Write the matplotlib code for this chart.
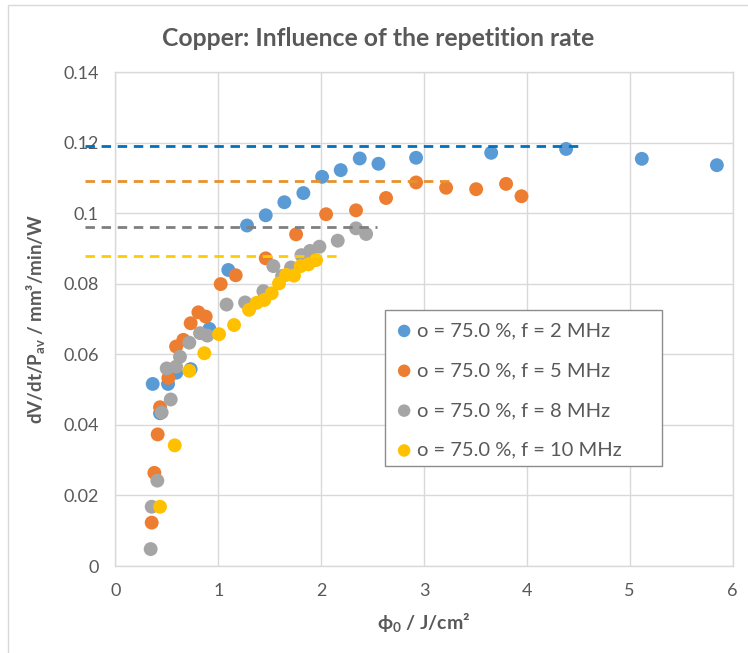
import matplotlib
matplotlib.use("Agg")
import matplotlib.pyplot as plt
from matplotlib.patches import Rectangle

plt.rcParams['font.family'] = ['Lato', 'DejaVu Sans']
plt.rcParams['mathtext.default'] = 'regular'

title = "Copper: Influence of the repetition rate"
x_ticks = [0, 1, 2, 3, 4, 5, 6]
y_ticks = [0, 0.02, 0.04, 0.06, 0.08, 0.10, 0.12, 0.14]
y_tick_labels = ["0", "0.02", "0.04", "0.06", "0.08", "0.1", "0.12", "0.14"]

labels = ["o = 75.0 %, f = 2 MHz", "o = 75.0 %, f = 5 MHz",
          "o = 75.0 %, f = 8 MHz", "o = 75.0 %, f = 10 MHz"]

x_2mhz = [0.362, 0.433, 0.511, 0.592, 0.731, 0.913, 1.097, 1.279, 1.461, 1.642,
          1.827, 2.009, 2.19, 2.375, 2.557, 2.923, 3.653, 4.382, 5.118, 5.848]
y_2mhz = [0.0516, 0.0433, 0.0516, 0.0548, 0.0558, 0.0672, 0.0839, 0.0965, 0.0994, 0.1031,
          0.1057, 0.1103, 0.1122, 0.1155, 0.1140, 0.1157, 0.1171, 0.1182, 0.1154, 0.1136]

x_5mhz = [0.352, 0.378, 0.41, 0.433, 0.514, 0.589, 0.66, 0.731, 0.806, 0.877, 1.023,
          1.169, 1.461, 1.756, 2.048, 2.339, 2.631, 2.923, 3.215, 3.507, 3.798, 3.948]
y_5mhz = [0.0123, 0.0264, 0.0373, 0.0450, 0.0533, 0.0622, 0.0641, 0.0688, 0.0719, 0.0707, 0.0799,
          0.0824, 0.0872, 0.0940, 0.0997, 0.1008, 0.1043, 0.1087, 0.1072, 0.1068, 0.1083, 0.1048]

x_8mhz = [0.342, 0.352, 0.407, 0.449, 0.498, 0.537, 0.589, 0.627, 0.718, 0.822, 0.893, 1.08,
          1.26, 1.438, 1.535, 1.62, 1.707, 1.808, 1.892, 1.983, 2.161, 2.339, 2.437]
y_8mhz = [0.0048, 0.0168, 0.0242, 0.0435, 0.0560, 0.0472, 0.0565, 0.0593, 0.0633, 0.0660, 0.0653, 0.0741,
          0.0747, 0.0779, 0.0850, 0.0822, 0.0846, 0.0881, 0.0893, 0.0905, 0.0922, 0.0957, 0.0941]

x_10mhz = [0.433, 0.576, 0.718, 0.864, 1.007, 1.153, 1.299, 1.373, 1.447, 1.519, 1.59,
           1.659, 1.736, 1.801, 1.876, 1.95]
y_10mhz = [0.0168, 0.0342, 0.0553, 0.0603, 0.0657, 0.0683, 0.0726, 0.0746, 0.0754, 0.0773, 0.0801,
           0.0825, 0.0823, 0.0850, 0.0855, 0.0867]

# saturation reference lines: level, start x, end x
sat_levels = [0.119, 0.109, 0.096, 0.088]
sat_x_start = [-0.30, -0.30, -0.30, -0.30]
sat_x_end = [4.52, 3.24, 2.54, 2.15]

marker_colors = ["#5B9BD5", "#ED7D31", "#A5A5A5", "#FFC000"]
line_colors = ["#0070C0", "#E8912D", "#7F7F7F", "#FFCC00"]
text_color = "#595959"
grid_color = "#D9D9D9"

fig = plt.figure(figsize=(7.48, 6.53), dpi=100)
ax = fig.add_axes([0.1544, 0.1332, 0.8249, 0.7565])

# chart border
fig.patches.append(Rectangle((8 / 748, -0.01), 1.0, 1.0 - 5 / 653 + 0.01,
                             transform=fig.transFigure, fill=False,
                             edgecolor=grid_color, linewidth=1.0))

xs = [x_2mhz, x_5mhz, x_8mhz, x_10mhz]
ys = [y_2mhz, y_5mhz, y_8mhz, y_10mhz]
for xv, yv, c, lab in zip(xs, ys, marker_colors, labels):
    ax.scatter(xv, yv, s=100, color=c, edgecolors='none', label=lab, zorder=3)

for lvl, x0, x1, c in zip(sat_levels, sat_x_start, sat_x_end, line_colors):
    ax.plot([x0, x1], [lvl, lvl], color=c, linestyle=(0, (3.4, 2.4)),
            linewidth=2.0, clip_on=False, zorder=4)

ax.set_xlim(0, 6)
ax.set_ylim(0, 0.14)
ax.set_xticks(x_ticks)
ax.set_xticklabels([str(v) for v in x_ticks])
ax.set_yticks(y_ticks)
ax.set_yticklabels(y_tick_labels)
ax.tick_params(length=0, labelsize=13, colors=text_color, pad=12)
ax.tick_params(axis='y', pad=12)
ax.grid(True, color=grid_color, linewidth=1.0)
ax.set_axisbelow(True)
for sp in ax.spines.values():
    sp.set_color(grid_color)
    sp.set_linewidth(1.0)

fig.text(378 / 748, 1 - 38 / 653, title, fontsize=17.8, fontweight='bold',
         color=text_color, ha='center', va='center')
ax.set_xlabel("ϕ$_0$ / J/cm²", fontsize=14, fontweight='bold', color=text_color,
              labelpad=9)
ax.set_ylabel("dV/dt/P$_{av}$ / mm³/min/W", fontsize=13.5, fontweight='bold',
              color=text_color, labelpad=12)

# legend box
ax.add_patch(Rectangle((0.4368, 0.2024), 0.4489, 0.3158, transform=ax.transAxes,
                       facecolor='white', edgecolor='#8C8C8C', linewidth=1.0,
                       zorder=5))
leg = ax.legend(loc='upper left', bbox_to_anchor=(0.4368, 0.5182), frameon=False,
                fontsize=14.5, labelspacing=1.13, handletextpad=0.3,
                borderpad=0.6, handlelength=0.7, markerscale=0.9,
                borderaxespad=0)
leg.set_zorder(6)
for t in leg.get_texts():
    t.set_color(text_color)

fig.savefig("out.png", dpi=100)
